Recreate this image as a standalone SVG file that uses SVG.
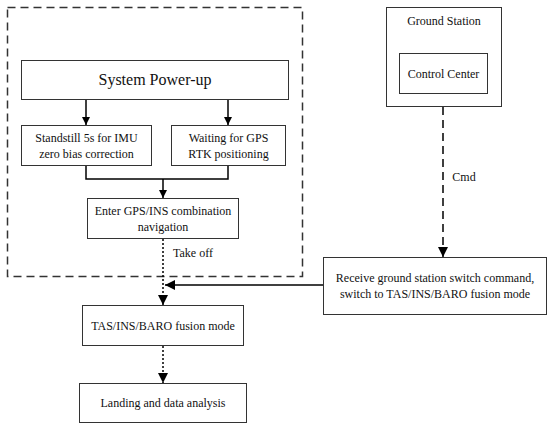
<svg xmlns="http://www.w3.org/2000/svg" width="550" height="428" viewBox="0 0 550 428">
<style>
.box{fill:#fff;stroke:#333;stroke-width:1}
.t{font-family:"Liberation Serif","Times New Roman",serif;font-size:12px;fill:#111;text-anchor:middle}
.big{font-size:16px}
.c{fill:none;stroke:#000;stroke-width:1.5}
</style>
<defs>
<marker id="ah" viewBox="0 0 10 10" refX="10" refY="5" markerWidth="8" markerHeight="8" markerUnits="userSpaceOnUse" orient="auto">
<path d="M0,0 L10,5 L0,10 z" fill="#000"/>
</marker>
<marker id="ahb" viewBox="0 0 10 10" refX="10" refY="5" markerWidth="10" markerHeight="10" markerUnits="userSpaceOnUse" orient="auto">
<path d="M0,0 L10,5 L0,10 z" fill="#000"/>
</marker>
</defs>
<rect x="7.5" y="7.5" width="295" height="269" fill="none" stroke="#333" stroke-width="1.5" stroke-dasharray="8,5"/>
<g id="power"><rect class="box" x="21.5" y="60.5" width="267" height="39"/><text class="t big" x="155" y="85">System Power-up</text></g>
<g id="standstill"><rect class="box" x="21.5" y="125.5" width="130" height="40"/><text class="t" x="86.5" y="142">Standstill 5s for IMU</text><text class="t" x="86.5" y="158">zero bias correction</text></g>
<g id="waiting"><rect class="box" x="171.5" y="125.5" width="114" height="40"/><text class="t" x="228.5" y="142">Waiting for GPS</text><text class="t" x="228.5" y="158">RTK positioning</text></g>
<g id="enter"><rect class="box" x="87.5" y="198.5" width="151" height="40"/><text class="t" x="163" y="215">Enter GPS/INS combination</text><text class="t" x="163" y="231">navigation</text></g>
<g id="ground"><rect class="box" x="386.5" y="7.5" width="115" height="99"/><text class="t" x="444" y="25">Ground Station</text></g>
<g id="control"><rect class="box" x="399.5" y="53.5" width="88" height="40"/><text class="t" x="443.5" y="78">Control Center</text></g>
<g id="receive"><rect class="box" x="323.5" y="257.5" width="223" height="57"/><text class="t" x="435" y="282">Receive ground station switch command,</text><text class="t" x="435" y="298">switch to TAS/INS/BARO fusion mode</text></g>
<g id="tas"><rect class="box" x="82.5" y="305.5" width="161" height="40"/><text class="t" x="163" y="330">TAS/INS/BARO fusion mode</text></g>
<g id="landing"><rect class="box" x="79.5" y="383.5" width="167" height="39"/><text class="t" x="163" y="407">Landing and data analysis</text></g>
<g id="connectors">
<line class="c" x1="86" y1="100" x2="86" y2="125" marker-end="url(#ah)"/>
<line class="c" x1="228" y1="100" x2="228" y2="125" marker-end="url(#ah)"/>
<polyline class="c" points="86,166 86,179 228,179 228,166"/>
<line class="c" x1="163" y1="179" x2="163" y2="198" marker-end="url(#ah)"/>
<line class="c" x1="163" y1="239" x2="163" y2="305" stroke-dasharray="2,2" marker-end="url(#ahb)"/>
<text class="t" x="193" y="257">Take off</text>
<line class="c" x1="323" y1="285" x2="165" y2="285" marker-end="url(#ahb)"/>
<line class="c" x1="443" y1="107" x2="443" y2="257" stroke-dasharray="8,5" marker-end="url(#ahb)"/>
<text class="t" x="464" y="181">Cmd</text>
<line class="c" x1="163" y1="346" x2="163" y2="383" stroke-dasharray="2,2" marker-end="url(#ahb)"/>
</g>
</svg>
